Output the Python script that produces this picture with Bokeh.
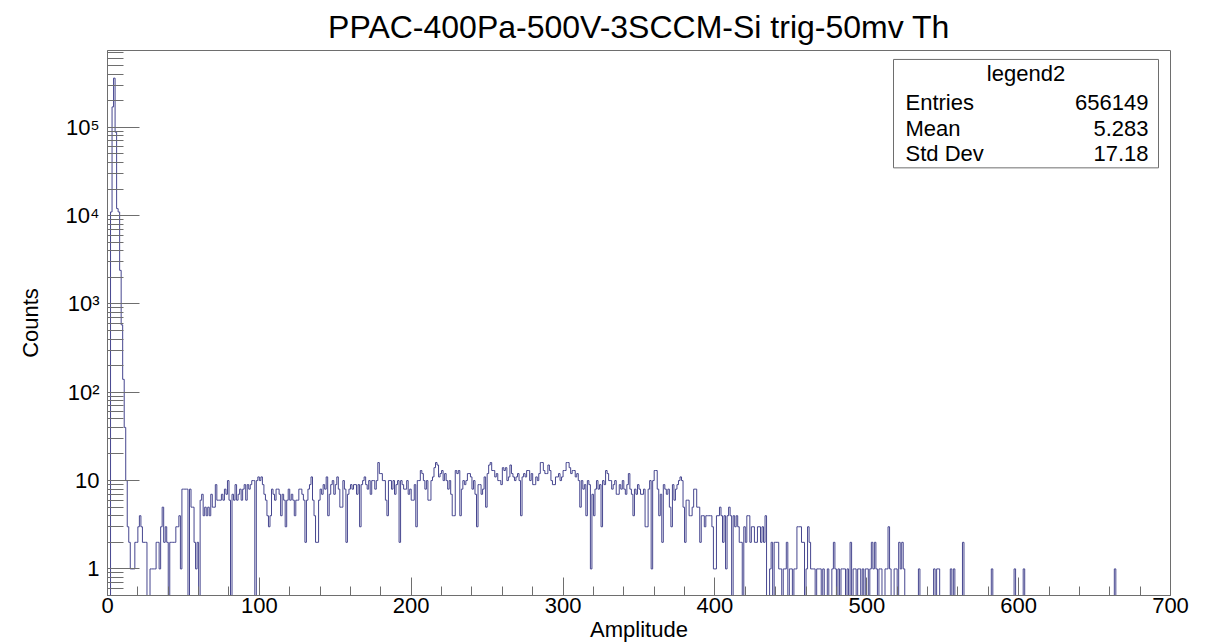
import numpy as np
from bokeh.plotting import figure
from bokeh.models import Range1d, FixedTicker, Label, BoxAnnotation
from bokeh.embed import file_html
from bokeh.resources import INLINE

# ---------------- data ----------------
TITLE = "PPAC-400Pa-500V-3SCCM-Si trig-50mv Th"
X_TITLE = "Amplitude"
Y_TITLE = "Counts"
X_MIN, X_MAX, N_BINS = 0, 700, 700

counts_000_099 = [
    0, 0, 11000, 170000, 360000, 88000, 12000, 11000, 2400, 580,
    140, 40, 10, 3, 2, 1, 1, 1, 2, 2,
    3, 4, 3, 2, 2, 2, 0, 0, 1, 1,
    1, 1, 2, 2, 1, 3, 5, 2, 3, 2,
    0, 2, 2, 2, 2, 3, 3, 4, 1, 8,
    8, 8, 8, 0, 8, 5, 5, 2, 1, 2,
    0, 6, 7, 4, 5, 4, 5, 4, 7, 5,
    5, 9, 6, 6, 6, 7, 6, 8, 7, 10,
    6, 0, 7, 6, 9, 6, 7, 8, 6, 8,
    9, 6, 9, 8, 9, 10, 10, 0, 10, 11,
]
counts_100_199 = [
    10, 11, 9, 7, 6, 4, 3, 4, 8, 7,
    6, 8, 8, 7, 4, 7, 6, 3, 6, 8,
    6, 7, 6, 4, 6, 6, 8, 8, 7, 6,
    2, 6, 8, 9, 11, 6, 4, 2, 2, 6,
    8, 7, 9, 8, 11, 4, 7, 9, 10, 7,
    9, 11, 8, 5, 5, 10, 8, 2, 7, 8,
    9, 8, 9, 9, 7, 9, 3, 9, 10, 11,
    9, 8, 10, 7, 10, 10, 8, 10, 16, 12,
    12, 10, 10, 6, 4, 10, 10, 8, 10, 7,
    9, 10, 2, 10, 9, 8, 8, 10, 7, 8,
]
counts_200_299 = [
    6, 6, 9, 3, 10, 10, 13, 12, 10, 8,
    10, 6, 6, 10, 11, 14, 16, 15, 11, 12,
    13, 10, 12, 10, 8, 10, 7, 4, 4, 13,
    12, 13, 4, 8, 10, 9, 10, 12, 12, 11,
    8, 10, 7, 3, 9, 9, 7, 8, 11, 5,
    12, 15, 16, 13, 13, 11, 12, 10, 10, 9,
    14, 13, 14, 10, 11, 15, 12, 11, 10, 11,
    12, 10, 4, 11, 12, 11, 13, 13, 10, 12,
    9, 9, 11, 10, 12, 16, 16, 13, 12, 12,
    15, 13, 10, 9, 9, 11, 11, 12, 10, 11,
]
counts_300_399 = [
    13, 13, 16, 16, 14, 12, 13, 13, 11, 12,
    10, 5, 10, 8, 9, 4, 10, 9, 1, 7,
    4, 8, 10, 8, 9, 3, 10, 9, 13, 12,
    10, 10, 8, 9, 10, 7, 7, 9, 8, 10,
    8, 7, 9, 12, 8, 7, 4, 8, 7, 9,
    8, 7, 7, 8, 3, 3, 8, 10, 1, 10,
    13, 13, 8, 4, 7, 2, 9, 8, 7, 8,
    5, 3, 9, 6, 8, 9, 10, 11, 10, 5,
    2, 6, 6, 4, 4, 5, 8, 8, 5, 5,
    2, 4, 4, 3, 4, 4, 4, 4, 3, 1,
]
counts_400_499 = [
    1, 4, 4, 5, 4, 2, 4, 1, 4, 5,
    4, 0, 4, 3, 4, 3, 2, 2, 0, 3,
    2, 4, 4, 2, 3, 3, 2, 2, 3, 3,
    2, 3, 2, 4, 0, 0, 1, 2, 0, 2,
    2, 2, 1, 1, 0, 1, 1, 2, 0, 1,
    1, 0, 1, 1, 3, 3, 3, 2, 2, 0,
    1, 3, 2, 1, 1, 1, 0, 1, 1, 1,
    0, 1, 0, 0, 1, 0, 0, 1, 2, 1,
    0, 1, 0, 1, 1, 1, 0, 1, 0, 2,
    0, 1, 1, 0, 1, 1, 0, 1, 0, 1,
]
counts_500_525 = [
    1, 0, 1, 2, 1, 2, 1, 0, 1, 1,
    0, 0, 1, 1, 3, 1, 0, 0, 1, 1,
    0, 2, 1, 2, 1, 0,
]
# bins 526..699 are empty except these
sparse_tail_bins = [534, 544, 546, 547, 555, 557, 563, 582, 597, 603, 663]
sparse_tail_counts = [1, 1, 1, 1, 1, 1, 2, 1, 1, 1, 1]

stats_header = "legend2"
stats_names = ["Entries", "Mean", "Std Dev"]
stats_values = ["656149", "5.283", "17.18"]

# ---------------- assemble histogram ----------------
counts = np.zeros(N_BINS)
dense = (counts_000_099 + counts_100_199 + counts_200_299 + counts_300_399
         + counts_400_499 + counts_500_525)
counts[:len(dense)] = dense
for b, c in zip(sparse_tail_bins, sparse_tail_counts):
    counts[b] = c

edges = np.linspace(X_MIN, X_MAX, N_BINS + 1)
step_x = np.repeat(edges, 2)[1:-1]
plot_counts = np.where(counts > 0, counts, 0.05)   # empty bins drop below the frame (ROOT log style)
step_y = np.repeat(plot_counts, 2)

# ---------------- layout constants (pixels) ----------------
W, H = 1210, 644
FL, FR, FT, FB = 107, 1170, 48, 596
Y_MIN, Y_MAX = 0.5, 7.4e5
FONT = "Liberation Sans"
FRAME_COLOR = "#6e6e6e"
HIST_COLOR = "#46468f"


def sx_to_x(sx):
    return X_MIN + (sx - FL) / (FR - FL) * (X_MAX - X_MIN)


def sy_to_y(sy):
    lo, hi = np.log10(Y_MIN), np.log10(Y_MAX)
    return 10 ** (lo + (FB - sy) / (FB - FT) * (hi - lo))


p = figure(width=W, height=H, y_axis_type="log",
           x_range=Range1d(X_MIN, X_MAX), y_range=Range1d(Y_MIN, Y_MAX),
           output_backend="svg", toolbar_location=None,
           min_border_left=FL, min_border_right=W - FR,
           min_border_top=0, min_border_bottom=H - FB)
p.background_fill_color = "white"
p.border_fill_color = "white"
p.xgrid.visible = False
p.ygrid.visible = False
p.outline_line_color = FRAME_COLOR
p.outline_line_width = 1

p.title.text = TITLE
p.title.align = "center"
p.title.text_font = FONT
p.title.text_font_style = "normal"
p.title.text_font_size = "32px"
p.title.text_color = "black"
p.title.standoff = 12

p.line(step_x, step_y, line_color=HIST_COLOR, line_width=1)

# x axis
xa = p.xaxis[0]
xa.ticker = FixedTicker(ticks=list(range(0, 701, 100)),
                        minor_ticks=[v for v in range(0, 701, 20) if v % 100])
xa.axis_label = X_TITLE
for ax in (p.xaxis[0], p.yaxis[0]):
    ax.axis_line_color = FRAME_COLOR
    ax.major_tick_line_color = FRAME_COLOR
    ax.minor_tick_line_color = FRAME_COLOR
    ax.major_tick_out = 0
    ax.minor_tick_out = 0
    ax.major_label_text_font = FONT
    ax.major_label_text_font_size = "22px"
    ax.major_label_text_color = "black"
    ax.axis_label_text_font = FONT
    ax.axis_label_text_font_size = "22px"
    ax.axis_label_text_font_style = "normal"
    ax.axis_label_text_color = "black"
xa.major_tick_in = 18
xa.minor_tick_in = 9
xa.major_label_standoff = 2
xa.axis_label_standoff = 1

# y axis
ya = p.yaxis[0]
decades = list(range(0, 6))
majors = [10 ** d for d in decades]
minors = [m * 10.0 ** d for d in range(-1, 6) for m in range(2, 10)
          if Y_MIN <= m * 10.0 ** d <= Y_MAX]
ya.ticker = FixedTicker(ticks=majors, minor_ticks=minors)
sup = {2: "\u00b2", 3: "\u00b3", 4: "\u2074", 5: "\u2075"}
ya.major_label_overrides = {10 ** d: ("1" if d == 0 else "10" if d == 1 else "10" + sup[d])
                            for d in decades}
ya.axis_label = Y_TITLE
ya.major_tick_in = 32
ya.minor_tick_in = 16
ya.major_label_standoff = 8
ya.axis_label_standoff = 20

# stats box
bx0, bx1, by0, by1 = 893, 1158, 57, 166
p.add_layout(BoxAnnotation(left=sx_to_x(bx0), right=sx_to_x(bx1),
                           top=sy_to_y(by0), bottom=sy_to_y(by1),
                           fill_color="white", fill_alpha=1.0,
                           line_color=FRAME_COLOR, line_width=1, line_alpha=1.0))
p.add_layout(Label(x=sx_to_x((bx0 + bx1) / 2), y=sy_to_y(71), text=stats_header,
                   text_font=FONT, text_font_size="22px", text_align="center",
                   text_baseline="middle", text_color="black"))
row_y = [100, 126, 152]
for name, val, ry in zip(stats_names, stats_values, row_y):
    p.add_layout(Label(x=sx_to_x(905), y=sy_to_y(ry), text=name,
                       text_font=FONT, text_font_size="22px", text_align="left",
                       text_baseline="middle", text_color="black"))
    p.add_layout(Label(x=sx_to_x(1148), y=sy_to_y(ry), text=val,
                       text_font=FONT, text_font_size="22px", text_align="right",
                       text_baseline="middle", text_color="black"))

open("out.html", "w").write(file_html(p, INLINE))
